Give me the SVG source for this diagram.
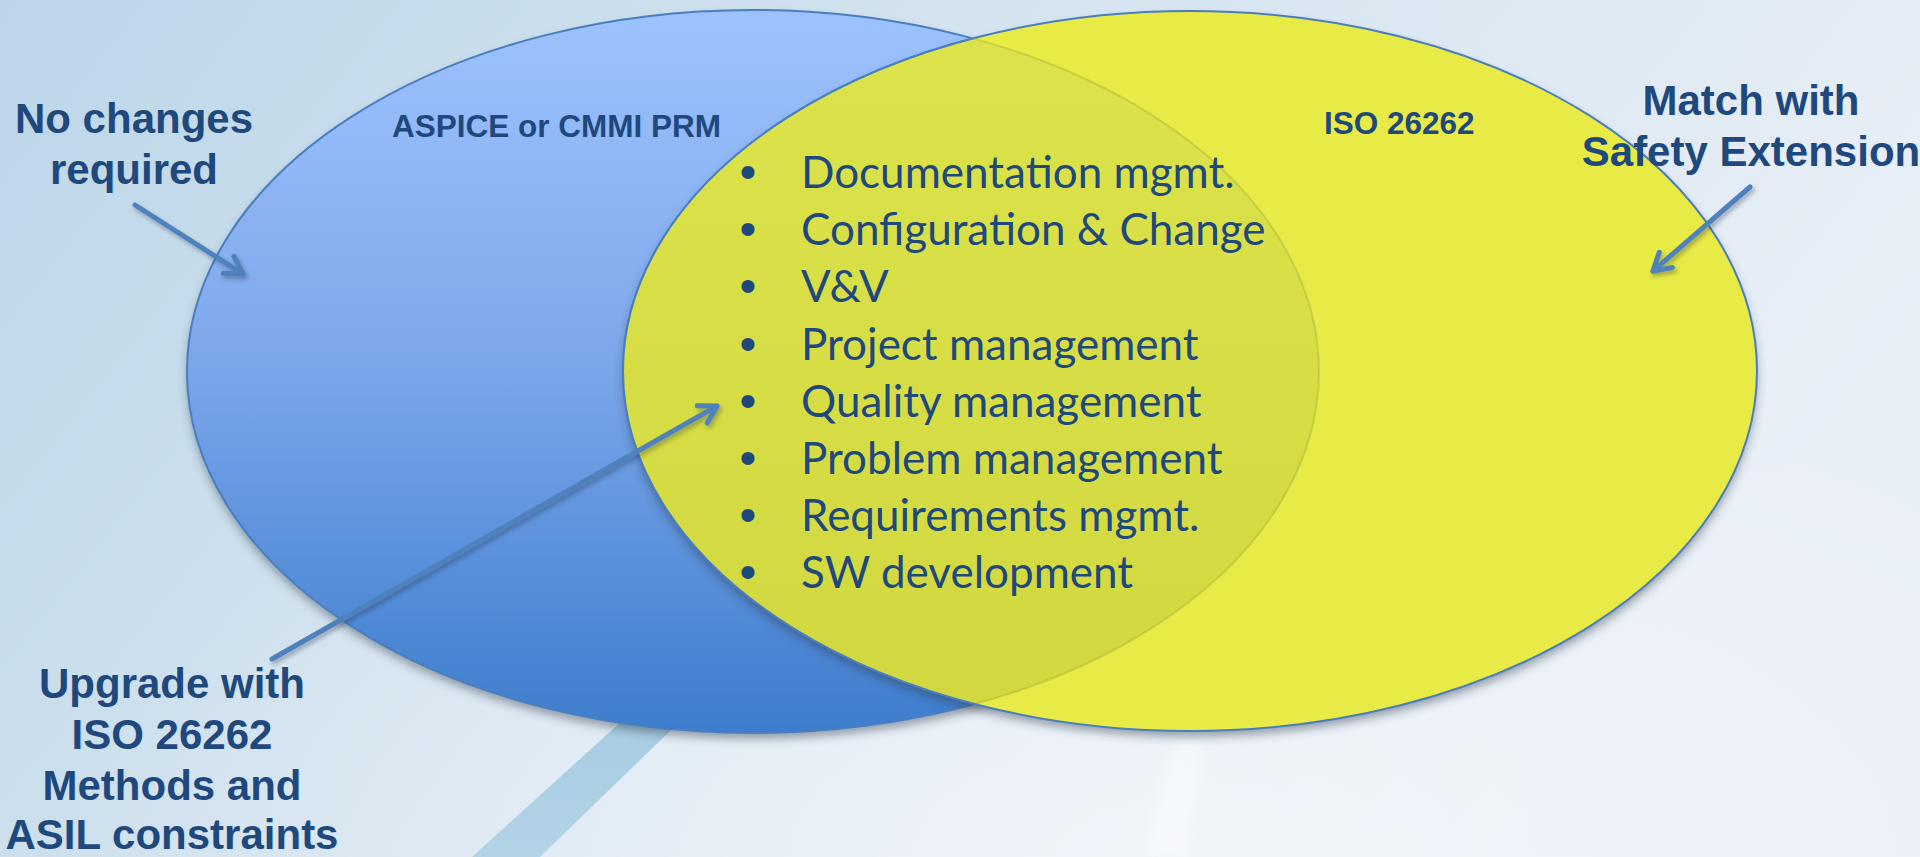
<svg xmlns="http://www.w3.org/2000/svg" width="1920" height="857" viewBox="0 0 1920 857">
  <defs>
    <linearGradient id="bg" x1="0" y1="0" x2="1" y2="0.35">
      <stop offset="0" stop-color="#BCD6E8"/>
      <stop offset="0.45" stop-color="#D3E3EF"/>
      <stop offset="1" stop-color="#E9EFF7"/>
    </linearGradient>
    <radialGradient id="bgGlow" cx="0.62" cy="1" r="0.6">
      <stop offset="0" stop-color="#F4F7FB" stop-opacity="0.8"/>
      <stop offset="1" stop-color="#F4F7FB" stop-opacity="0"/>
    </radialGradient>
    <linearGradient id="swoosh" x1="0" y1="0" x2="0" y2="1">
      <stop offset="0" stop-color="#A6CBE2"/>
      <stop offset="1" stop-color="#B3D3E7"/>
    </linearGradient>
    <linearGradient id="blueFill" x1="0" y1="0" x2="0" y2="1">
      <stop offset="0" stop-color="#9DC3FF"/>
      <stop offset="0.45" stop-color="#80A9EC"/>
      <stop offset="1" stop-color="#3D7DCD"/>
    </linearGradient>
    <linearGradient id="overlapFill" x1="0" y1="0" x2="0" y2="1">
      <stop offset="0" stop-color="#DDE34B"/>
      <stop offset="1" stop-color="#D0D73F"/>
    </linearGradient>
    <clipPath id="clipBlue">
      <ellipse cx="753" cy="371.5" rx="566" ry="361.5"/>
    </clipPath>
    <clipPath id="clipYellow">
      <ellipse cx="1190" cy="371" rx="567" ry="360"/>
    </clipPath>
    <filter id="shapeShadow" x="-10%" y="-10%" width="120%" height="125%">
      <feDropShadow dx="0" dy="6" stdDeviation="5" flood-color="#2B3A4A" flood-opacity="0.45"/>
    </filter>
    <filter id="arrowShadow" x="-20%" y="-20%" width="140%" height="140%">
      <feDropShadow dx="2" dy="3" stdDeviation="2" flood-color="#1E2C3C" flood-opacity="0.35"/>
    </filter>
    <filter id="soft" x="-50%" y="-50%" width="200%" height="200%">
      <feGaussianBlur stdDeviation="6"/>
    </filter>
    <marker id="openArrow" viewBox="0 0 26 26" refX="22" refY="13" markerWidth="26" markerHeight="26" markerUnits="userSpaceOnUse" orient="auto">
      <path d="M5,3 L22,13 L5,23" fill="none" stroke="#4F81BD" stroke-width="5" stroke-linecap="round" stroke-linejoin="round"/>
    </marker>
    <style>
      .label { font-family: "Liberation Sans", Arial, sans-serif; font-weight: bold; fill: #1F497D; }
      .callout { font-size: 42px; text-anchor: middle; }
      .set-title { font-size: 31.5px; }
      .item { font-family: Lato, "Noto Sans", sans-serif; font-size: 44px; fill: #1F497D; }
      .bullet { font-family: "Liberation Sans", Arial, sans-serif; font-size: 48px; fill: #1F497D; text-anchor: middle; }
      .connector { fill: none; stroke: #4F81BD; stroke-width: 5; stroke-linecap: round; marker-end: url(#openArrow); }
      .outline { fill: none; stroke: #4A7EBE; stroke-width: 2; }
    </style>
  </defs>

  <!-- backdrop -->
  <g id="background">
    <rect x="0" y="0" width="1920" height="857" fill="url(#bg)"/>
    <rect x="0" y="0" width="1920" height="857" fill="url(#bgGlow)"/>
    <polygon points="645,700 702,700 540,857 472,857" fill="url(#swoosh)"/>
    <path d="M1175,740 C1160,790 1150,830 1146,857 L1186,857 C1190,830 1196,790 1205,740 Z" fill="#FFFFFF" opacity="0.35" filter="url(#soft)"/>
  </g>

  <!-- left set -->
  <g id="aspice">
    <ellipse cx="753" cy="371.5" rx="566" ry="361.5" fill="url(#blueFill)" filter="url(#shapeShadow)"/>
    <ellipse class="outline" cx="753" cy="371.5" rx="566" ry="361.5"/>
    <text class="label set-title" x="392" y="137">ASPICE or CMMI PRM</text>
  </g>

  <!-- right set -->
  <g id="iso26262">
    <ellipse cx="1190" cy="371" rx="567" ry="360" fill="#E8EA45" filter="url(#shapeShadow)"/>
    <ellipse class="outline" cx="1190" cy="371" rx="567" ry="360"/>
    <text class="label set-title" x="1324" y="134">ISO 26262</text>
  </g>

  <!-- shared area with the common processes -->
  <g id="common">
    <ellipse cx="1190" cy="371" rx="567" ry="360" fill="url(#overlapFill)" clip-path="url(#clipBlue)"/>
    <ellipse cx="753" cy="371.5" rx="566" ry="361.5" fill="none" stroke="#8E9A2E" stroke-opacity="0.3" stroke-width="2" clip-path="url(#clipYellow)"/>
    <ellipse class="outline" cx="1190" cy="371" rx="567" ry="360" clip-path="url(#clipBlue)"/>
    <g id="process-list">
      <text class="bullet" x="748" y="188">•</text><text class="item" x="801" y="188">Documentation mgmt.</text>
      <text class="bullet" x="748" y="245">•</text><text class="item" x="801" y="245">Configuration &amp; Change</text>
      <text class="bullet" x="748" y="302">•</text><text class="item" x="801" y="302">V&amp;V</text>
      <text class="bullet" x="748" y="360">•</text><text class="item" x="801" y="360">Project management</text>
      <text class="bullet" x="748" y="417">•</text><text class="item" x="801" y="417">Quality management</text>
      <text class="bullet" x="748" y="474">•</text><text class="item" x="801" y="474">Problem management</text>
      <text class="bullet" x="748" y="531">•</text><text class="item" x="801" y="531">Requirements mgmt.</text>
      <text class="bullet" x="748" y="588">•</text><text class="item" x="801" y="588">SW development</text>
    </g>
  </g>

  <!-- callout arrows -->
  <g id="connectors" filter="url(#arrowShadow)">
    <line class="connector" x1="135" y1="205" x2="243" y2="274"/>
    <line class="connector" x1="1750" y1="187" x2="1653" y2="271"/>
    <line class="connector" x1="272" y1="659" x2="717" y2="406"/>
  </g>

  <!-- callout texts -->
  <g id="note-no-changes">
    <text class="label callout" x="134" y="133">No changes</text>
    <text class="label callout" x="134" y="184">required</text>
  </g>
  <g id="note-safety-extension">
    <text class="label callout" x="1751" y="115">Match with</text>
    <text class="label callout" x="1751" y="166">Safety Extension</text>
  </g>
  <g id="note-upgrade">
    <text class="label callout" x="172" y="698">Upgrade with</text>
    <text class="label callout" x="172" y="749">ISO 26262</text>
    <text class="label callout" x="172" y="800">Methods and</text>
    <text class="label callout" x="172" y="849">ASIL constraints</text>
  </g>
</svg>
